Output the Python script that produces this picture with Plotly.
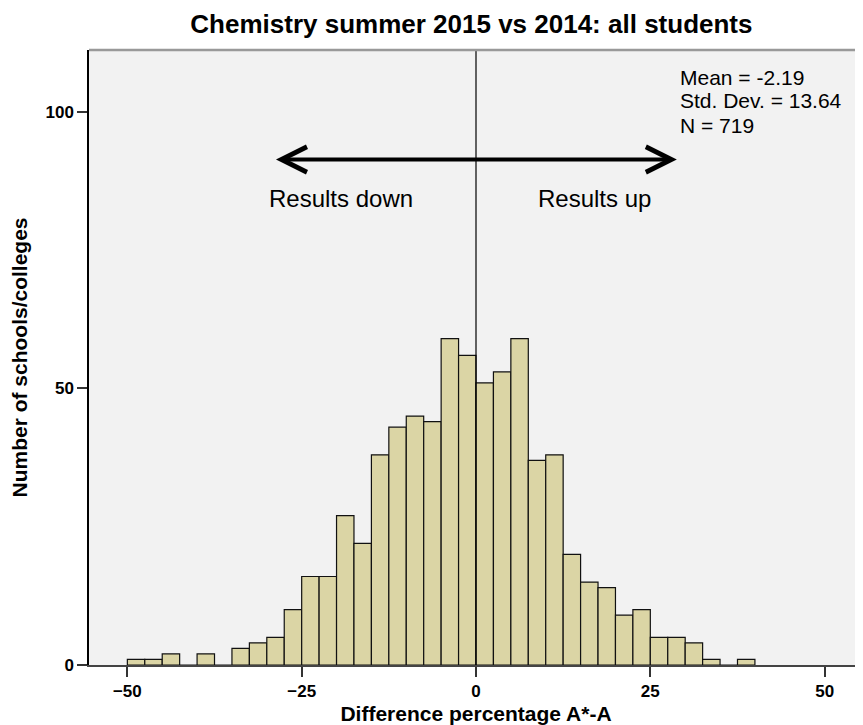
import plotly.graph_objects as go

# histogram bins (2.5 wide)
bin_mid = [-48.75, -46.25, -43.75, -41.25, -38.75, -36.25, -33.75, -31.25, -28.75, -26.25,
           -23.75, -21.25, -18.75, -16.25, -13.75, -11.25, -8.75, -6.25, -3.75, -1.25,
           1.25, 3.75, 6.25, 8.75, 11.25, 13.75, 16.25, 18.75, 21.25, 23.75,
           26.25, 28.75, 31.25, 33.75, 36.25, 38.75]
counts = [1, 1, 2, 0, 2, 0, 3, 4, 5, 10,
          16, 16, 27, 22, 38, 43, 45, 44, 59, 56,
          51, 53, 59, 37, 38, 20, 15, 14, 9, 10,
          5, 5, 4, 1, 0, 1]
bin_width = 2.5

x_ticks = [-50, -25, 0, 25, 50]
y_ticks = [0, 50, 100]
stats = ['Mean = -2.19', 'Std. Dev. = 13.64', 'N = 719']
stats_y = [106.2, 102.0, 97.6]

FONT = 'Liberation Sans, Arial'
TICK_FONT = dict(family=FONT, size=17, color='black', weight='bold')

fig = go.Figure()
fig.add_trace(go.Bar(
    x=bin_mid, y=counts, width=bin_width,
    marker=dict(color='#dbd5a5', line=dict(color='#111', width=1.2)),
    hoverinfo='x+y',
))

# zero line through the middle
fig.add_shape(type='line', xref='x', yref='paper', x0=0, x1=0, y0=0, y1=1,
              line=dict(color='black', width=1.2), layer='above')
# grey frame along the top
fig.add_shape(type='line', xref='paper', yref='paper', x0=0, x1=1, y0=1, y1=1,
              line=dict(color='#999', width=2.5))

# double arrow
fig.add_annotation(x=28.8, y=91.4, ax=-28.9, ay=91.4, xref='x', yref='y', axref='x', ayref='y',
                   text='', showarrow=True, arrowside='end+start', arrowhead=5, arrowsize=1.25,
                   arrowwidth=4, arrowcolor='black')
fig.add_annotation(x=-19.4, y=84.4, text='Results down', showarrow=False,
                   font=dict(family=FONT, size=24, color='black'))
fig.add_annotation(x=17.0, y=84.4, text='Results up', showarrow=False,
                   font=dict(family=FONT, size=24, color='black'))
for label, yy in zip(stats, stats_y):
    fig.add_annotation(x=29.0, y=yy, xanchor='left', yanchor='middle', text=label,
                       showarrow=False, font=dict(family=FONT, size=21, color='black'))

# page body adds ~8px at top/left, so the figure is a little smaller than the window
fig.update_layout(
    width=855, height=717,
    margin=dict(l=81, r=0, t=42, b=60),
    paper_bgcolor='white', plot_bgcolor='#f2f2f2',
    showlegend=False,
    title=dict(text='<b>Chemistry summer 2015 vs 2014: all students</b>', x=0.542, xanchor='center',
               y=0.978, yanchor='middle', font=dict(family=FONT, size=26, color='black')),
    xaxis=dict(range=[-55.5, 55.5], tickvals=x_ticks, showgrid=False, zeroline=False,
               showline=True, linecolor='#444', linewidth=1.5, ticks='outside', ticklen=10,
               tickwidth=1.5, tickcolor='#333', tickfont=TICK_FONT,
               title=dict(text='<b>Difference percentage A*-A</b>', standoff=10,
                          font=dict(family=FONT, size=21, color='black'))),
    yaxis=dict(range=[0, 111.2], tickvals=y_ticks, showgrid=False, zeroline=False,
               showline=True, linecolor='black', linewidth=1.5, ticks='outside', ticklen=10,
               tickwidth=1.5, tickcolor='#333', tickfont=TICK_FONT,
               title=dict(text='<b>Number of schools/colleges</b>', standoff=20,
                          font=dict(family=FONT, size=21, color='black'))),
)

fig.write_html('out.html')
